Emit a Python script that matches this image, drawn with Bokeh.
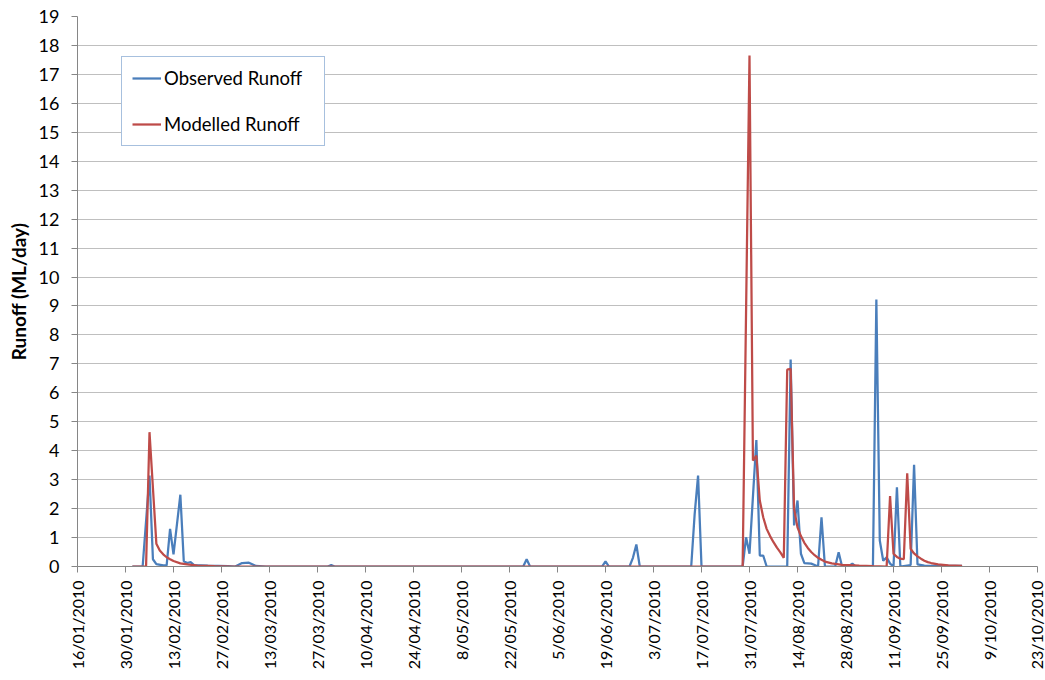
import pandas as pd
from math import pi
from bokeh.plotting import figure
from bokeh.models import Legend, LegendItem, FixedTicker, Range1d
from bokeh.embed import file_html
from bokeh.resources import INLINE

tick_labels = ["16/01/2010", "30/01/2010", "13/02/2010", "27/02/2010", "13/03/2010",
               "27/03/2010", "10/04/2010", "24/04/2010", "8/05/2010", "22/05/2010",
               "5/06/2010", "19/06/2010", "3/07/2010", "17/07/2010", "31/07/2010",
               "14/08/2010", "28/08/2010", "11/09/2010", "25/09/2010", "9/10/2010",
               "23/10/2010"]
y_ticks = list(range(0, 20))

obs_dates = ["2010-02-01", "2010-02-04", "2010-02-06", "2010-02-07", "2010-02-08",
             "2010-02-10", "2010-02-11", "2010-02-12", "2010-02-13", "2010-02-15",
             "2010-02-16", "2010-02-17", "2010-02-18", "2010-02-19", "2010-02-23",
             "2010-03-01", "2010-03-03", "2010-03-05", "2010-03-07", "2010-03-09",
             "2010-03-12", "2010-03-30", "2010-03-31", "2010-04-01", "2010-05-26",
             "2010-05-27", "2010-05-28", "2010-06-18", "2010-06-19", "2010-06-20",
             "2010-06-26", "2010-06-27", "2010-06-28", "2010-06-29", "2010-07-14",
             "2010-07-15", "2010-07-16", "2010-07-17", "2010-07-29", "2010-07-30",
             "2010-07-31", "2010-08-02", "2010-08-03", "2010-08-04", "2010-08-05",
             "2010-08-11", "2010-08-12", "2010-08-13", "2010-08-14", "2010-08-15",
             "2010-08-16", "2010-08-18", "2010-08-19", "2010-08-20", "2010-08-21",
             "2010-08-22", "2010-08-25", "2010-08-26", "2010-08-27", "2010-08-29",
             "2010-08-30", "2010-08-31", "2010-09-05", "2010-09-06", "2010-09-07",
             "2010-09-08", "2010-09-09", "2010-09-10", "2010-09-11", "2010-09-12",
             "2010-09-13", "2010-09-16", "2010-09-17", "2010-09-18", "2010-09-20",
             "2010-10-01"]
obs_values = [0, 0, 3.14, 0.25, 0.08,
              0.04, 0.04, 1.30, 0.42, 2.48,
              0.18, 0.12, 0.15, 0.05, 0.03,
              0.01, 0.0, 0.12, 0.13, 0.02,
              0, 0, 0.05, 0, 0,
              0.25, 0, 0, 0.18, 0,
              0, 0.3, 0.76, 0, 0,
              1.8, 3.14, 0, 0, 1.01,
              0.44, 4.37, 0.38, 0.38, 0,
              0, 7.15, 1.42, 2.28, 0.44,
              0.12, 0.1, 0.05, 0, 1.70,
              0, 0, 0.49, 0, 0.02,
              0.1, 0, 0, 9.22, 0.9,
              0.2, 0.32, 0.1, 0, 2.74,
              0, 0.05, 3.51, 0.07, 0.03,
              0.02]

mod_dates = ["2010-02-01", "2010-02-05", "2010-02-06", "2010-02-08", "2010-02-09",
             "2010-02-10", "2010-02-11", "2010-02-12", "2010-02-13", "2010-02-15",
             "2010-02-17", "2010-02-20", "2010-02-25", "2010-03-02", "2010-07-29",
             "2010-07-31", "2010-08-01", "2010-08-02", "2010-08-03", "2010-08-04",
             "2010-08-05", "2010-08-06", "2010-08-07", "2010-08-08", "2010-08-09",
             "2010-08-10", "2010-08-11", "2010-08-12", "2010-08-13", "2010-08-14",
             "2010-08-15", "2010-08-16", "2010-08-17", "2010-08-18", "2010-08-19",
             "2010-08-20", "2010-08-21", "2010-08-22", "2010-08-24", "2010-08-27",
             "2010-09-01", "2010-09-05", "2010-09-09", "2010-09-10", "2010-09-11",
             "2010-09-12", "2010-09-13", "2010-09-14", "2010-09-15", "2010-09-16",
             "2010-09-17", "2010-09-18", "2010-09-19", "2010-09-20", "2010-09-21",
             "2010-09-22", "2010-09-24", "2010-09-27", "2010-10-01"]
mod_values = [0, 0, 4.64, 0.79, 0.55,
              0.42, 0.32, 0.25, 0.19, 0.11,
              0.07, 0.03, 0.01, 0, 0,
              17.65, 3.66, 3.83, 2.28, 1.70,
              1.30, 1.05, 0.84, 0.65, 0.49,
              0.30, 6.80, 6.83, 2.0, 1.35,
              1.05, 0.82, 0.64, 0.5, 0.39,
              0.3, 0.23, 0.17, 0.11, 0.06,
              0.03, 0.01, 0, 2.43, 0.44,
              0.33, 0.27, 0.25, 3.22, 0.61,
              0.45, 0.35, 0.27, 0.2, 0.15,
              0.12, 0.07, 0.04, 0.02]

FONT = "Lato"

tick_ms = [int(pd.to_datetime(t, format="%d/%m/%Y").value // 10**6) for t in tick_labels]
obs_x = pd.to_datetime(obs_dates)
mod_x = pd.to_datetime(mod_dates)

p = figure(frame_width=960, frame_height=550, x_axis_type="datetime",
           x_range=Range1d(tick_ms[0], tick_ms[-1]), y_range=Range1d(0, 19),
           output_backend="svg", toolbar_location=None,
           min_border_left=77, min_border_top=16, min_border_right=8, min_border_bottom=5)
p.outline_line_color = None
p.background_fill_color = "white"
p.border_fill_color = "white"

r_obs = p.line(obs_x, obs_values, line_color="#4A7EBB", line_width=2.25)
r_mod = p.line(mod_x, mod_values, line_color="#BE4B48", line_width=2.25)

p.xgrid.visible = False
p.ygrid.grid_line_color = "#BFBFBF"
p.ygrid.grid_line_width = 1

p.yaxis.ticker = FixedTicker(ticks=y_ticks)
p.xaxis.ticker = FixedTicker(ticks=tick_ms)
p.xaxis.major_label_overrides = {t: lab for t, lab in zip(tick_ms, tick_labels)}
p.xaxis.major_label_orientation = pi / 2

for ax in (p.xaxis, p.yaxis):
    ax.axis_line_color = "#868686"
    ax.major_tick_line_color = "#868686"
    ax.major_tick_out = 6
    ax.major_tick_in = 0
    ax.minor_tick_line_color = None
    ax.major_label_text_font = FONT
    ax.major_label_text_color = "black"
p.xaxis.major_label_text_font_size = "16px"
p.yaxis.major_label_text_font_size = "18px"
p.xaxis.major_label_standoff = 8
p.yaxis.major_label_standoff = 12

p.yaxis.axis_label = "Runoff (ML/day)"
p.yaxis.axis_label_text_font = FONT
p.yaxis.axis_label_text_font_size = "19px"
p.yaxis.axis_label_text_font_style = "bold"
p.yaxis.axis_label_text_color = "black"
p.yaxis.axis_label_standoff = 6

legend = Legend(items=[LegendItem(label="Observed Runoff", renderers=[r_obs]),
                       LegendItem(label="Modelled Runoff", renderers=[r_mod])],
                location=(44, 420), orientation="vertical",
                padding=10, spacing=24, margin=0,
                glyph_width=29, glyph_height=20, label_height=20, label_width=150,
                label_standoff=3,
                label_text_font=FONT, label_text_font_size="18.5px", label_text_color="black",
                border_line_color="#4F81BD", border_line_width=1,
                background_fill_color="white", background_fill_alpha=1)
p.add_layout(legend)

open("out.html", "w").write(file_html(p, INLINE))
